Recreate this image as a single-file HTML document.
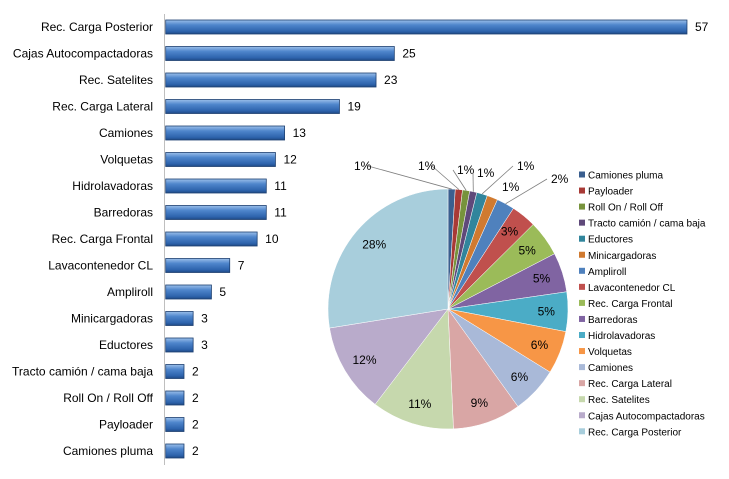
<!DOCTYPE html>
<html><head><meta charset="utf-8"><style>
body{margin:0;background:#fff;}
svg{display:block;font-family:"Liberation Sans",sans-serif;}
</style></head><body>
<svg id="c" width="729" height="479">
<defs>
<linearGradient id="bg" x1="0" y1="0" x2="0" y2="1">
<stop offset="0" stop-color="#9cc0ea"/><stop offset="0.35" stop-color="#4f86cc"/><stop offset="0.8" stop-color="#2e64ad"/><stop offset="1" stop-color="#1f4a86"/>
</linearGradient>
</defs>
<g id="bars"></g>
<g id="pie"></g>
<g id="legend"></g>
</svg>
<script>
const barCats=["Rec. Carga Posterior","Cajas Autocompactadoras","Rec. Satelites","Rec. Carga Lateral","Camiones","Volquetas","Hidrolavadoras","Barredoras","Rec. Carga Frontal","Lavacontenedor CL","Ampliroll","Minicargadoras","Eductores","Tracto camión / cama baja","Roll On / Roll Off","Payloader","Camiones pluma"];
const barVals=[57,25,23,19,13,12,11,11,10,7,5,3,3,2,2,2,2];
const pieCats=["Camiones pluma","Payloader","Roll On / Roll Off","Tracto camión / cama baja","Eductores","Minicargadoras","Ampliroll","Lavacontenedor CL","Rec. Carga Frontal","Barredoras","Hidrolavadoras","Volquetas","Camiones","Rec. Carga Lateral","Rec. Satelites","Cajas Autocompactadoras","Rec. Carga Posterior"];
const pieVals=[2,2,2,2,3,3,5,7,10,11,11,12,13,19,23,25,57];
const pieLabels=["1%","1%","1%","1%","1%","1%","2%","3%","5%","5%","5%","6%","6%","9%","11%","12%","28%"];
const pieColors=["#3a5f8f","#a83a36","#77933c","#5f497a","#31859c","#d07a30","#4f81bd","#c0504d","#9bbb59","#8064a2","#4bacc6","#f79646","#a9b9d8","#d9a6a5","#c6d8ad","#b9abcb","#a8cedc"];
const NS="http://www.w3.org/2000/svg";
function mk(t,a,p){const e=document.createElementNS(NS,t);for(const k in a)e.setAttribute(k,a[k]);p.appendChild(e);return e;}
// bars
const B=document.getElementById('bars');
const x0=165.7,kx=9.145,y0=27,dy=26.5,bh=14;
const xs=v=>x0+v*kx, ys=i=>y0+i*dy;
let ax=mk('line',{x1:164.5,y1:14,x2:164.5,y2:465,stroke:'#bfbfbf'},B);


barCats.forEach((c,i)=>{
 const t=mk('text',{x:153,y:ys(i)+4,'text-anchor':'end','font-size':12,fill:'#000'},B);t.textContent=c;
 
 
 const r=mk('rect',{x:x0,y:ys(i)-bh/2,width:xs(barVals[i])-x0,height:bh,fill:'url(#bg)',stroke:'#1d3f70','stroke-width':0.8},B);
 
 
 const v=mk('text',{x:xs(barVals[i])+8,y:ys(i)+4,'font-size':12,fill:'#000'},B);v.textContent=barVals[i];
 
 
});
// pie
const P=document.getElementById('pie');
const cx=448,cy=309,R=120;
const tot=pieVals.reduce((a,b)=>a+b,0);
const outPos=[[354,170],[418,170],[457,174],[477,177],[517,170],[502,191],[551,183]];
let a=0;
pieVals.forEach((v,i)=>{
 const a1=a,a2=a+v/tot*2*Math.PI;a=a2;
 const p=t=>[cx+R*Math.sin(t),cy-R*Math.cos(t)];
 const [x1,y1]=p(a1),[x2,y2]=p(a2);
 const s=mk('path',{d:`M${cx},${cy}L${x1},${y1}A${R},${R} 0 ${a2-a1>Math.PI?1:0} 1 ${x2},${y2}Z`,fill:pieColors[i],stroke:'#fff','stroke-width':0.5},P);
 
 
 const m=(a1+a2)/2;let lx,ly;
 if(i<outPos.length && i!==5){
  [lx,ly]=outPos[i];
  const [ex,ey]=p(m);
  const l=mk('polyline',{points:`${ex},${ey} ${lx+ (lx<cx?14:-4)},${ly-4}`,fill:'none',stroke:'#7f7f7f','stroke-width':0.8},P);
  
  
 } else if(i===5){[lx,ly]=outPos[i];}
 else {const rr=R*0.83;lx=cx+rr*Math.sin(m)-10;ly=cy-rr*Math.cos(m)+4;}
 const t=mk('text',{x:lx,y:ly,'font-size':12,fill:'#000'},P);t.textContent=pieLabels[i];
 
 
});
// legend
const L=document.getElementById('legend');
pieCats.forEach((c,i)=>{
 const y=175+i*16.05;
 const r=mk('rect',{x:579,y:y-3.5,width:6,height:6,fill:pieColors[i]},L);
 
 
 const t=mk('text',{x:588,y:y+3.5,'font-size':10,fill:'#000'},L);t.textContent=c;
 
 
});
</script>
</body></html>
